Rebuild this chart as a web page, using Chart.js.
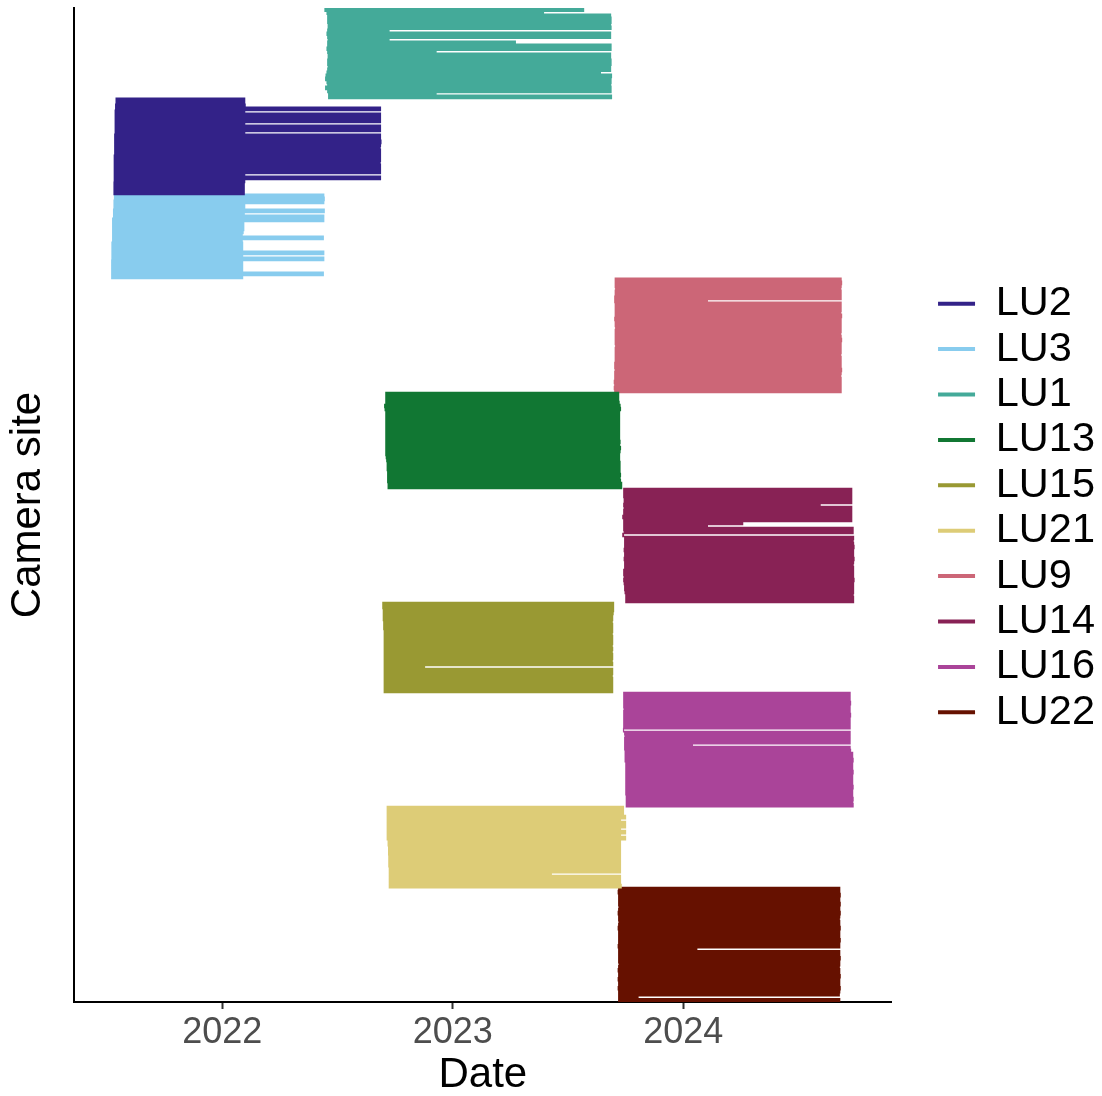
<!DOCTYPE html>
<html>
<head>
<meta charset="utf-8">
<script src="https://cdn.jsdelivr.net/npm/chart.js@4.4.1/dist/chart.umd.min.js"></script>
<style>
  html, body { margin: 0; padding: 0; background: #ffffff; }
  #wrap { width: 1102px; height: 1096px; }
</style>
</head>
<body>
<div id="wrap"><canvas id="chart" width="1102" height="1096"></canvas></div>
<script>
// Camera deployment periods, one [start, end] pair (decimal years) per camera row.
const LU1 = [
  [2022.443,2023.570],[2022.452,2023.396],[2022.455,2023.687],[2022.455,2023.689],[2022.455,2023.689],
  [2022.457,2023.687],[2022.457,2023.689],[2022.455,2022.726],[2022.452,2023.687],[2022.455,2023.687],
  [2022.457,2022.726],[2022.455,2023.274],[2022.455,2023.689],[2022.452,2023.689],[2022.455,2022.930],
  [2022.457,2023.687],[2022.457,2023.687],[2022.455,2023.689],[2022.455,2023.689],[2022.457,2023.687],
  [2022.455,2023.687],[2022.452,2023.643],[2022.448,2023.691],[2022.446,2023.689],[2022.452,2023.689],
  [2022.455,2023.687],[2022.446,2023.689],[2022.455,2023.689],[2022.459,2022.930],[2022.459,2023.691]
];
const LU2 = [
  [2021.537,2022.100],[2021.537,2022.100],[2021.535,2022.102],[2021.535,2022.689],[2021.533,2022.100],
  [2021.533,2022.689],[2021.533,2022.689],[2021.533,2022.689],[2021.533,2022.100],[2021.533,2022.689],
  [2021.533,2022.689],[2021.533,2022.100],[2021.531,2022.689],[2021.531,2022.689],[2021.531,2022.691],
  [2021.531,2022.689],[2021.531,2022.687],[2021.531,2022.689],[2021.531,2022.689],[2021.529,2022.689],
  [2021.529,2022.689],[2021.529,2022.687],[2021.529,2022.689],[2021.529,2022.689],[2021.529,2022.689],
  [2021.529,2022.100],[2021.529,2022.689],[2021.529,2022.100],[2021.528,2022.098],[2021.528,2022.098],
  [2021.528,2022.098],[2021.528,2022.098]
];
const LU3 = [
  [2021.530,2022.443],[2021.530,2022.445],[2021.528,2022.443],[2021.528,2022.100],[2021.528,2022.100],
  [2021.526,2022.445],[2021.526,2022.098],[2021.526,2022.443],[2021.522,2022.443],[2021.522,2022.096],
  [2021.522,2022.096],[2021.522,2022.096],[2021.522,2022.093],[2021.522,2022.089],[2021.522,2022.441],
  [2021.522,2022.089],[2021.519,2022.091],[2021.519,2022.091],[2021.519,2022.091],[2021.519,2022.443],
  [2021.519,2022.091],[2021.519,2022.443],[2021.518,2022.091],[2021.518,2022.091],[2021.518,2022.091],
  [2021.518,2022.091],[2021.518,2022.441],[2021.518,2022.091]
];
const LU9 = [
  [2023.702,2024.687],[2023.702,2024.689],[2023.702,2024.687],[2023.704,2024.685],[2023.702,2024.687],
  [2023.702,2024.687],[2023.700,2024.687],[2023.700,2024.107],[2023.702,2024.687],[2023.702,2024.687],
  [2023.702,2024.687],[2023.702,2024.685],[2023.702,2024.689],[2023.700,2024.687],[2023.702,2024.687],
  [2023.702,2024.687],[2023.704,2024.687],[2023.702,2024.687],[2023.702,2024.685],[2023.702,2024.687],
  [2023.702,2024.689],[2023.702,2024.687],[2023.704,2024.687],[2023.702,2024.687],[2023.702,2024.687],
  [2023.702,2024.685],[2023.702,2024.687],[2023.702,2024.687],[2023.700,2024.687],[2023.700,2024.687],
  [2023.702,2024.689],[2023.700,2024.687],[2023.700,2024.685],[2023.700,2024.687],[2023.698,2024.687],
  [2023.700,2024.687],[2023.698,2024.687],[2023.700,2024.687]
];
const LU13 = [
  [2022.707,2023.722],[2022.707,2023.722],[2022.707,2023.722],[2022.707,2023.724],[2022.702,2023.728],
  [2022.704,2023.730],[2022.707,2023.726],[2022.707,2023.726],[2022.707,2023.726],[2022.707,2023.726],
  [2022.707,2023.726],[2022.707,2023.726],[2022.707,2023.726],[2022.707,2023.726],[2022.707,2023.726],
  [2022.707,2023.726],[2022.707,2023.728],[2022.707,2023.726],[2022.707,2023.730],[2022.707,2023.728],
  [2022.707,2023.726],[2022.709,2023.726],[2022.711,2023.726],[2022.713,2023.728],[2022.713,2023.728],
  [2022.713,2023.728],[2022.715,2023.728],[2022.715,2023.730],[2022.715,2023.728],[2022.715,2023.730],
  [2022.717,2023.735],[2022.717,2023.735]
];
const LU14 = [
  [2023.739,2024.733],[2023.739,2024.733],[2023.739,2024.733],[2023.741,2024.733],[2023.741,2024.733],
  [2023.739,2024.596],[2023.741,2024.733],[2023.739,2024.733],[2023.739,2024.733],[2023.735,2024.733],
  [2023.739,2024.733],[2023.739,2024.260],[2023.739,2024.107],[2023.739,2024.739],[2023.741,2024.739],
  [2023.735,2023.743],[2023.743,2024.741],[2023.743,2024.739],[2023.743,2024.741],[2023.743,2024.743],
  [2023.741,2024.741],[2023.743,2024.741],[2023.743,2024.741],[2023.741,2024.743],[2023.743,2024.741],
  [2023.743,2024.739],[2023.743,2024.741],[2023.739,2024.741],[2023.739,2024.741],[2023.741,2024.741],
  [2023.739,2024.743],[2023.741,2024.741],[2023.743,2024.741],[2023.743,2024.741],[2023.745,2024.741],
  [2023.748,2024.739],[2023.748,2024.741],[2023.748,2024.741]
];
const LU15 = [
  [2022.694,2023.700],[2022.694,2023.700],[2022.696,2023.700],[2022.696,2023.698],[2022.696,2023.696],
  [2022.696,2023.696],[2022.698,2023.694],[2022.698,2023.696],[2022.698,2023.696],[2022.700,2023.696],
  [2022.700,2023.694],[2022.700,2023.696],[2022.700,2023.696],[2022.700,2023.696],[2022.700,2023.694],
  [2022.700,2023.696],[2022.700,2023.694],[2022.700,2023.696],[2022.700,2023.696],[2022.700,2023.694],
  [2022.700,2023.696],[2022.700,2022.880],[2022.700,2023.696],[2022.700,2023.696],[2022.700,2023.694],
  [2022.700,2023.696],[2022.700,2023.696],[2022.700,2023.696],[2022.700,2023.696],[2022.700,2023.696]
];
const LU16 = [
  [2023.739,2024.726],[2023.739,2024.726],[2023.739,2024.726],[2023.739,2024.728],[2023.739,2024.726],
  [2023.741,2024.726],[2023.739,2024.726],[2023.739,2024.728],[2023.739,2024.726],[2023.739,2024.726],
  [2023.739,2024.726],[2023.739,2024.726],[2023.738,2023.743],[2023.743,2024.726],[2023.745,2024.726],
  [2023.743,2024.726],[2023.743,2024.726],[2023.743,2024.042],[2023.743,2024.726],[2023.745,2024.728],
  [2023.745,2024.737],[2023.745,2024.737],[2023.745,2024.739],[2023.748,2024.737],[2023.748,2024.737],
  [2023.748,2024.737],[2023.748,2024.739],[2023.748,2024.737],[2023.748,2024.737],[2023.748,2024.737],
  [2023.748,2024.737],[2023.748,2024.739],[2023.748,2024.737],[2023.748,2024.737],[2023.750,2024.737],
  [2023.750,2024.739],[2023.750,2024.737],[2023.750,2024.739]
];
const LU21 = [
  [2022.713,2023.743],[2022.713,2023.743],[2022.713,2023.743],[2022.713,2023.752],[2022.713,2023.730],
  [2022.713,2023.752],[2022.713,2023.752],[2022.713,2023.730],[2022.713,2023.752],[2022.713,2023.730],
  [2022.713,2023.752],[2022.717,2023.730],[2022.717,2023.730],[2022.719,2023.730],[2022.719,2023.730],
  [2022.719,2023.730],[2022.720,2023.730],[2022.720,2023.730],[2022.720,2023.730],[2022.720,2023.730],
  [2022.722,2023.730],[2022.722,2023.730],[2022.722,2023.430],[2022.722,2023.730],[2022.722,2023.730],
  [2022.722,2023.730],[2022.722,2023.733]
];
const LU22 = [
  [2023.717,2024.681],[2023.715,2024.681],[2023.717,2024.683],[2023.717,2024.681],[2023.717,2024.681],
  [2023.717,2024.683],[2023.719,2024.681],[2023.717,2024.681],[2023.715,2024.683],[2023.717,2024.681],
  [2023.717,2024.679],[2023.719,2024.681],[2023.717,2024.681],[2023.715,2024.683],[2023.717,2024.681],
  [2023.717,2024.681],[2023.717,2024.681],[2023.717,2024.683],[2023.717,2024.681],[2023.715,2024.681],
  [2023.717,2024.061],[2023.717,2024.681],[2023.717,2024.681],[2023.717,2024.683],[2023.717,2024.681],
  [2023.719,2024.681],[2023.717,2024.679],[2023.715,2024.681],[2023.717,2024.681],[2023.717,2024.683],
  [2023.715,2024.681],[2023.717,2024.681],[2023.717,2024.681],[2023.715,2024.683],[2023.717,2024.681],
  [2023.717,2024.679],[2023.717,2023.806],[2023.717,2024.681]
];

// Sites from top to bottom of the plot, and the order they are listed in the legend.
const stackOrder = ['LU1','LU2','LU3','LU9','LU13','LU14','LU15','LU16','LU21','LU22'];
const legendOrder = ['LU2','LU3','LU1','LU13','LU15','LU21','LU9','LU14','LU16','LU22'];
const tickYears = [2022, 2023, 2024];

const siteRows = { LU1, LU2, LU3, LU9, LU13, LU14, LU15, LU16, LU21, LU22 };
const siteColours = {
  LU2: '#332288', LU3: '#88CCEE', LU1: '#44AA99', LU13: '#117733', LU15: '#999933',
  LU21: '#DDCC77', LU9: '#CC6677', LU14: '#882255', LU16: '#AA4499', LU22: '#661100'
};

// Number every camera row consecutively, site by site.
let rowCount = 0;
const rowNumbers = {};
stackOrder.forEach(site => {
  rowNumbers[site] = siteRows[site].map(() => ++rowCount);
});

// One dataset per site; each row becomes a separate horizontal segment.
const datasets = legendOrder.map(site => {
  const points = [];
  siteRows[site].forEach(([start, end], i) => {
    const row = rowNumbers[site][i];
    points.push({ x: start, y: row }, { x: end, y: row }, { x: end, y: null });
  });
  return {
    label: site,
    data: points,
    borderColor: siteColours[site],
    backgroundColor: siteColours[site],
    borderWidth: 4.6,
    borderCapStyle: 'butt',
    pointRadius: 0,
    pointHoverRadius: 0,
    tension: 0,
    spanGaps: false,
    fill: false
  };
});

const FONT = "'Liberation Sans', Arial, Helvetica, sans-serif";

new Chart(document.getElementById('chart'), {
  type: 'line',
  data: { datasets },
  options: {
    responsive: false,
    animation: false,
    events: [],
    layout: { padding: { top: 8, right: -3, bottom: 0, left: 0 } },
    scales: {
      x: {
        type: 'linear',
        min: 2021.357,
        max: 2024.904,
        afterBuildTicks: scale => { scale.ticks = tickYears.map(v => ({ value: v })); },
        afterFit: scale => { scale.height = 94; },
        ticks: {
          autoSkip: false,
          maxRotation: 0,
          padding: 2,
          color: '#4d4d4d',
          font: { family: FONT, size: 36 },
          callback: v => String(v)
        },
        grid: {
          display: true,
          drawOnChartArea: false,
          drawTicks: true,
          tickLength: 7,
          tickWidth: 2,
          tickColor: '#333333',
          color: '#333333'
        },
        border: { display: true, color: '#000000', width: 2 },
        title: {
          display: true,
          text: 'Date',
          color: '#000000',
          font: { family: FONT, size: 42, lineHeight: 1.0 },
          padding: { top: 0, bottom: 0 }
        }
      },
      y: {
        type: 'linear',
        reverse: true,
        min: 0.4,
        max: rowCount + 0.6,
        afterFit: scale => { scale.width = 74; },
        ticks: { display: false },
        grid: { display: false },
        border: { display: true, color: '#000000', width: 2 },
        title: {
          display: true,
          text: 'Camera site',
          color: '#000000',
          font: { family: FONT, size: 42, lineHeight: 1.1 },
          padding: { top: 5.5, bottom: 0 }
        }
      },
      gutter: {
        type: 'linear',
        position: 'right',
        display: true,
        afterFit: scale => { scale.width = 42.4; },
        ticks: { display: false },
        grid: { display: false },
        border: { display: false }
      }
    },
    plugins: {
      tooltip: { enabled: false },
      legend: {
        position: 'right',
        fullSize: false,
        align: 'center',
        title: { display: true, text: '', font: { size: 5, lineHeight: 1.2 }, padding: 0 },
        labels: {
          usePointStyle: true,
          pointStyle: 'line',
          pointStyleWidth: 37,
          padding: 3.9,
          color: '#000000',
          font: { family: FONT, size: 41.5 },
          generateLabels: chart =>
            Chart.defaults.plugins.legend.labels.generateLabels(chart)
              .map(item => Object.assign(item, { lineWidth: 4 }))
        }
      }
    }
  }
});
</script>
</body>
</html>
